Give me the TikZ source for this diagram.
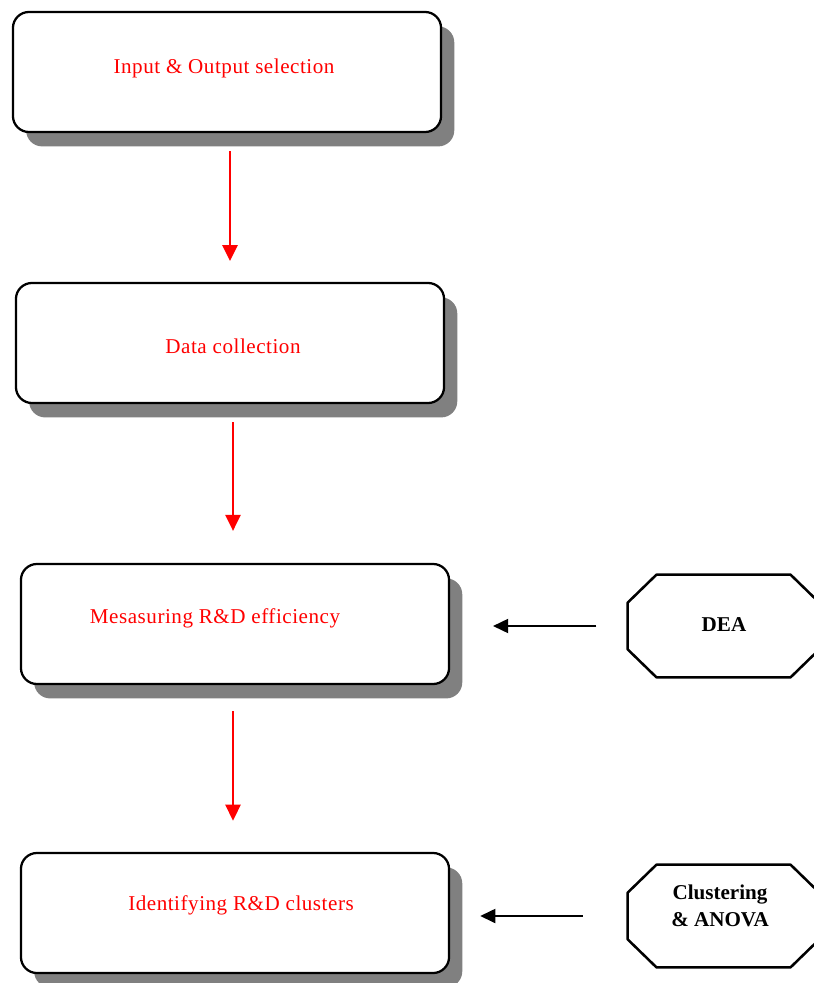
\documentclass[tikz,border=0pt]{standalone}
\usepackage{fontspec}
\setmainfont{Liberation Serif}
\usetikzlibrary{arrows.meta,shadows}

\tikzset{
  stagebox/.style={draw,line width=1.6pt,fill=white,rounded corners=0.4cm,
    minimum width=10.7cm,minimum height=3cm,
    drop shadow={shadow xshift=0.33cm,shadow yshift=-0.36cm,fill=gray,opacity=1}},
  stagetext/.style={text=red,font=\fontsize{15}{18}\selectfont\addfontfeatures{LetterSpace=2.5}},
  toolbox/.style={minimum width=4.78cm,minimum height=2.55cm,inner sep=0pt},
  toolline/.style={line width=1.8pt,line join=round},
  tooltext/.style={align=center,font=\bfseries\fontsize{15}{19}\selectfont},
  redarrow/.style={draw=red,line width=1.5pt,-{Triangle[length=0.4cm,width=0.38cm]}},
  blackarrow/.style={line width=1.5pt,-{Triangle[length=0.38cm,width=0.35cm]}}
}

\begin{document}
\begin{tikzpicture}[x=0.025cm,y=-0.025cm]
  \useasboundingbox (0,0) rectangle (813,983);

  % stages
  \node[stagebox] (b1) at (227,72) {};
  \node[stagebox] (b2) at (230,343) {};
  \node[stagebox] (b3) at (235,624) {};
  \node[stagebox] (b4) at (235,913) {};
  \node[stagetext] (t1) at (224,68) {Input \& Output selection};
  \node[stagetext] (t2) at (233,346) {Data collection};
  \node[stagetext] (t3) at (215,618) {Mesasuring R\&D efficiency};
  \node[stagetext] (t4) at (241,905) {Identifying R\&D clusters};

  % methods
  \node[toolbox] (d1) at (723.5,626) {};
  \node[toolbox] (d2) at (723.5,916) {};
  \foreach \d in {d1,d2}
    \draw[toolline] ([xshift=0.72cm]\d.north west) -- ([xshift=-0.72cm]\d.north east)
      -- ([yshift=-0.7cm]\d.north east) -- ([yshift=0.7cm]\d.south east)
      -- ([xshift=-0.72cm]\d.south east) -- ([xshift=0.72cm]\d.south west)
      -- ([yshift=0.7cm]\d.south west) -- ([yshift=-0.7cm]\d.north west) -- cycle;
  \node[tooltext] (m1) at (724,625) {DEA};
  \node[tooltext] (m2) at (720,906) {Clustering\\\& ANOVA};

  \draw[redarrow,shorten <=0.45cm,shorten >=0.52cm] (b1.south -| b2.north) -- (b2.north);
  \draw[redarrow,shorten <=0.45cm,shorten >=0.8cm] (b2.south -| 233,0) -- (b3.north -| 233,0);
  \draw[redarrow,shorten <=0.65cm,shorten >=0.78cm] (b3.south -| 233,0) -- (b4.north -| 233,0);
  \draw[blackarrow,shorten <=0.78cm,shorten >=1.07cm] (d1.west) -- (d1.west -| b3.east);
  \draw[blackarrow,shorten <=1.12cm,shorten >=0.75cm] (d2.west) -- (d2.west -| b4.east);
\end{tikzpicture}
\end{document}
